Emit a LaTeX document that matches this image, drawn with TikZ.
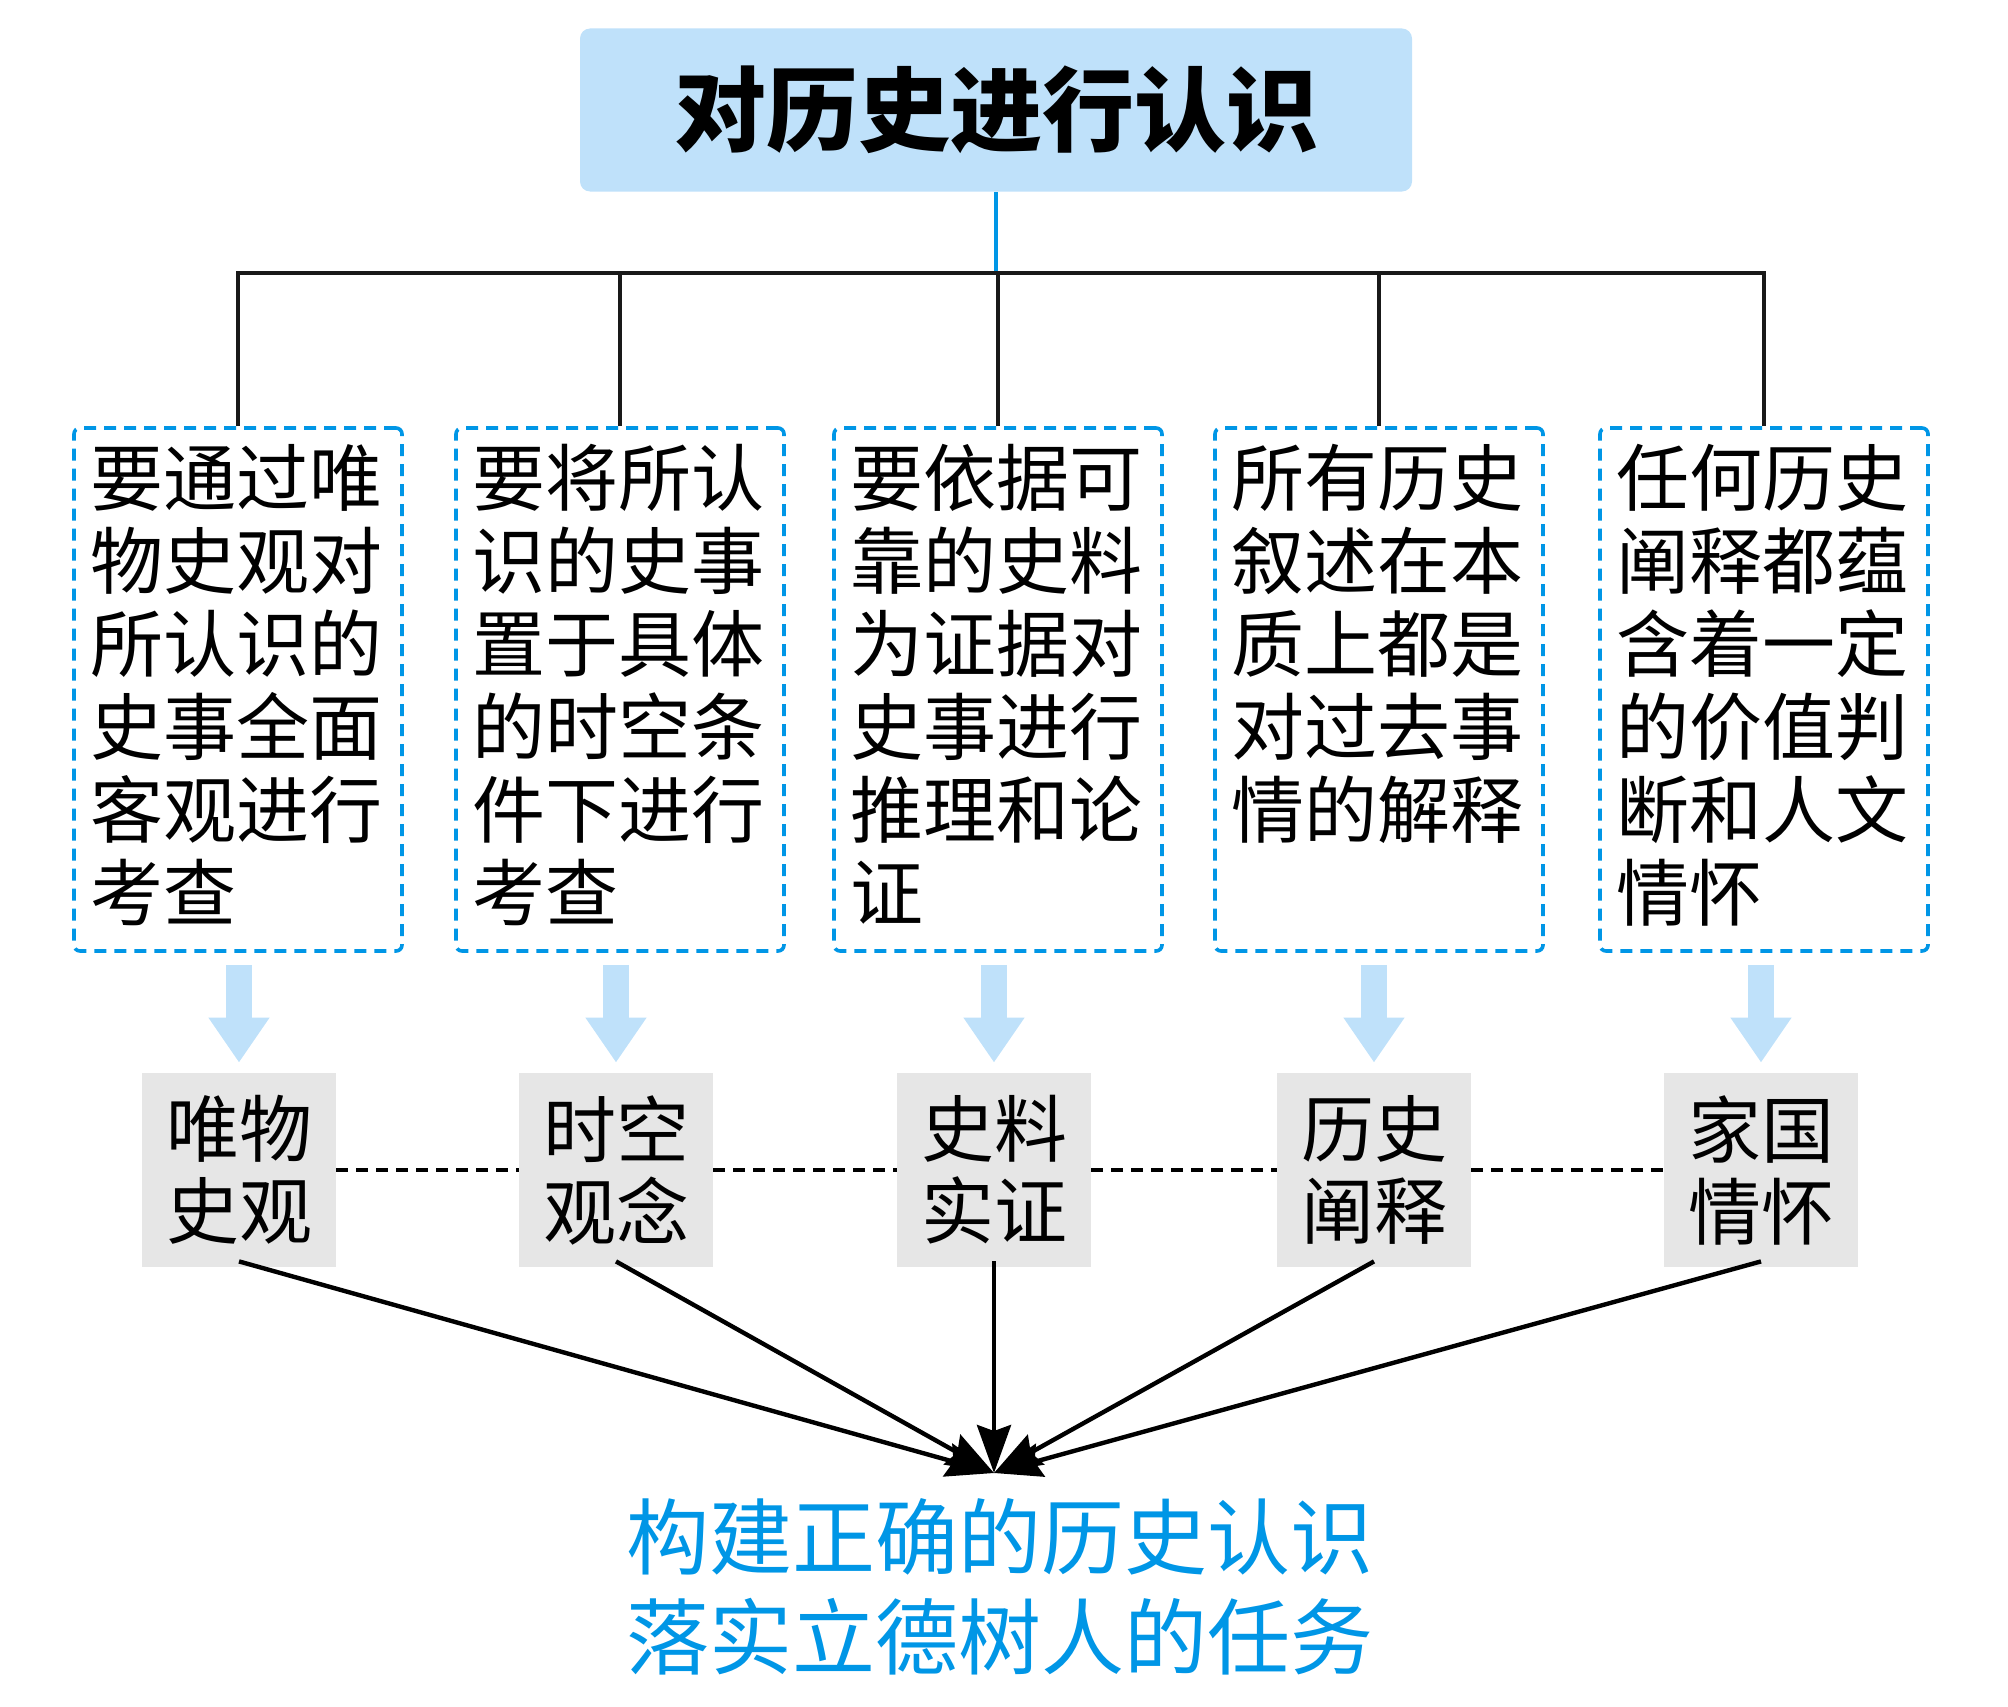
\documentclass[tikz,border=0pt]{standalone}
\usepackage{fontspec}
\setmainfont{Noto Sans CJK SC}
\usetikzlibrary{arrows.meta}
\definecolor{lblue}{RGB}{191,225,250}
\definecolor{dblue}{RGB}{0,150,230}
\definecolor{gbox}{RGB}{230,230,230}
\begin{document}
\begin{tikzpicture}[x=0.5pt,y=-0.5pt,
  titlebox/.style={fill=lblue, rounded corners=5pt, minimum width=416pt, minimum height=81.5pt, inner sep=0pt, font=\bfseries\fontsize{46pt}{50pt}\selectfont},
  dbox/.style={draw=dblue, line width=1.8pt, dash pattern=on 6pt off 4pt, rounded corners=3pt, minimum width=164pt, minimum height=261.5pt, inner sep=0pt},
  btext/.style={anchor=north west, inner sep=0pt, align=left, font=\fontsize{36.5pt}{41.5pt}\selectfont},
  gbx/.style={fill=gbox, minimum width=97pt, minimum height=97pt, inner sep=0pt, align=center, font=\fontsize{36.5pt}{41pt}\selectfont},
  tree/.style={draw=black!90, line width=2pt},
  bluelink/.style={draw=dblue, line width=2pt},
  fatarrow/.style={draw=lblue, line width=13pt, -{Triangle[length=22.5pt,width=29pt]}},
  dashlink/.style={draw=black, line width=2pt, dash pattern=on 6pt off 4pt},
  conv/.style={draw=black, line width=2.2pt, -{Stealth[length=24pt,width=17pt,inset=3pt]}},
  goaltext/.style={text=dblue, align=center, inner sep=0pt, font=\fontsize{41.5pt}{50pt}\selectfont}
]
\useasboundingbox (0,0) rectangle (2008,1707);

\node[titlebox] (top) at (996,110) {对历史进行认识};
\coordinate (bar) at (0,273);

\node[dbox] (b1) at (238,689.5) {};
\node[dbox] (b2) at (620,689.5) {};
\node[dbox] (b3) at (998,689.5) {};
\node[dbox] (b4) at (1379,689.5) {};
\node[dbox] (b5) at (1764,689.5) {};

\node[btext] (t1) at ([shift={(18,18)}]b1.north west) {要通过唯\\物史观对\\所认识的\\史事全面\\客观进行\\考查};
\node[btext] (t2) at ([shift={(18,18)}]b2.north west) {要将所认\\识的史事\\置于具体\\的时空条\\件下进行\\考查};
\node[btext] (t3) at ([shift={(18,18)}]b3.north west) {要依据可\\靠的史料\\为证据对\\史事进行\\推理和论\\证};
\node[btext] (t4) at ([shift={(18,18)}]b4.north west) {所有历史\\叙述在本\\质上都是\\对过去事\\情的解释};
\node[btext] (t5) at ([shift={(18,18)}]b5.north west) {任何历史\\阐释都蕴\\含着一定\\的价值判\\断和人文\\情怀};

\draw[bluelink] (top.south) -- (top.south |- bar);
\draw[tree] (b1.north) -- (b1.north |- bar) -- (b5.north |- bar) -- (b5.north);
\draw[tree] (b2.north) -- (b2.north |- bar);
\draw[tree] (b3.north) -- (b3.north |- bar);
\draw[tree] (b4.north) -- (b4.north |- bar);

\node[gbx] (g1) at (239,1170) {唯物\\史观};
\node[gbx] (g2) at (616,1170) {时空\\观念};
\node[gbx] (g3) at (994,1170) {史料\\实证};
\node[gbx] (g4) at (1374,1170) {历史\\阐释};
\node[gbx] (g5) at (1761,1170) {家国\\情怀};

\foreach \i in {1,...,5}{
  \draw[fatarrow] ([shift={(0,12)}]b\i.south -| g\i.north) -- ([shift={(0,-10)}]g\i.north);
}

\draw[dashlink] (g1.east) -- (g2.west);
\draw[dashlink] (g2.east) -- (g3.west);
\draw[dashlink] (g3.east) -- (g4.west);
\draw[dashlink] (g4.east) -- (g5.west);

\coordinate (hubpt) at (994,1473);
\foreach \i in {1,...,5}{
  \draw[conv] ([shift={(0,-6)}]g\i.south) -- (hubpt);
}

\node[goaltext] (goal) at (1000,1587) {构建正确的历史认识\\落实立德树人的任务};
\end{tikzpicture}
\end{document}
